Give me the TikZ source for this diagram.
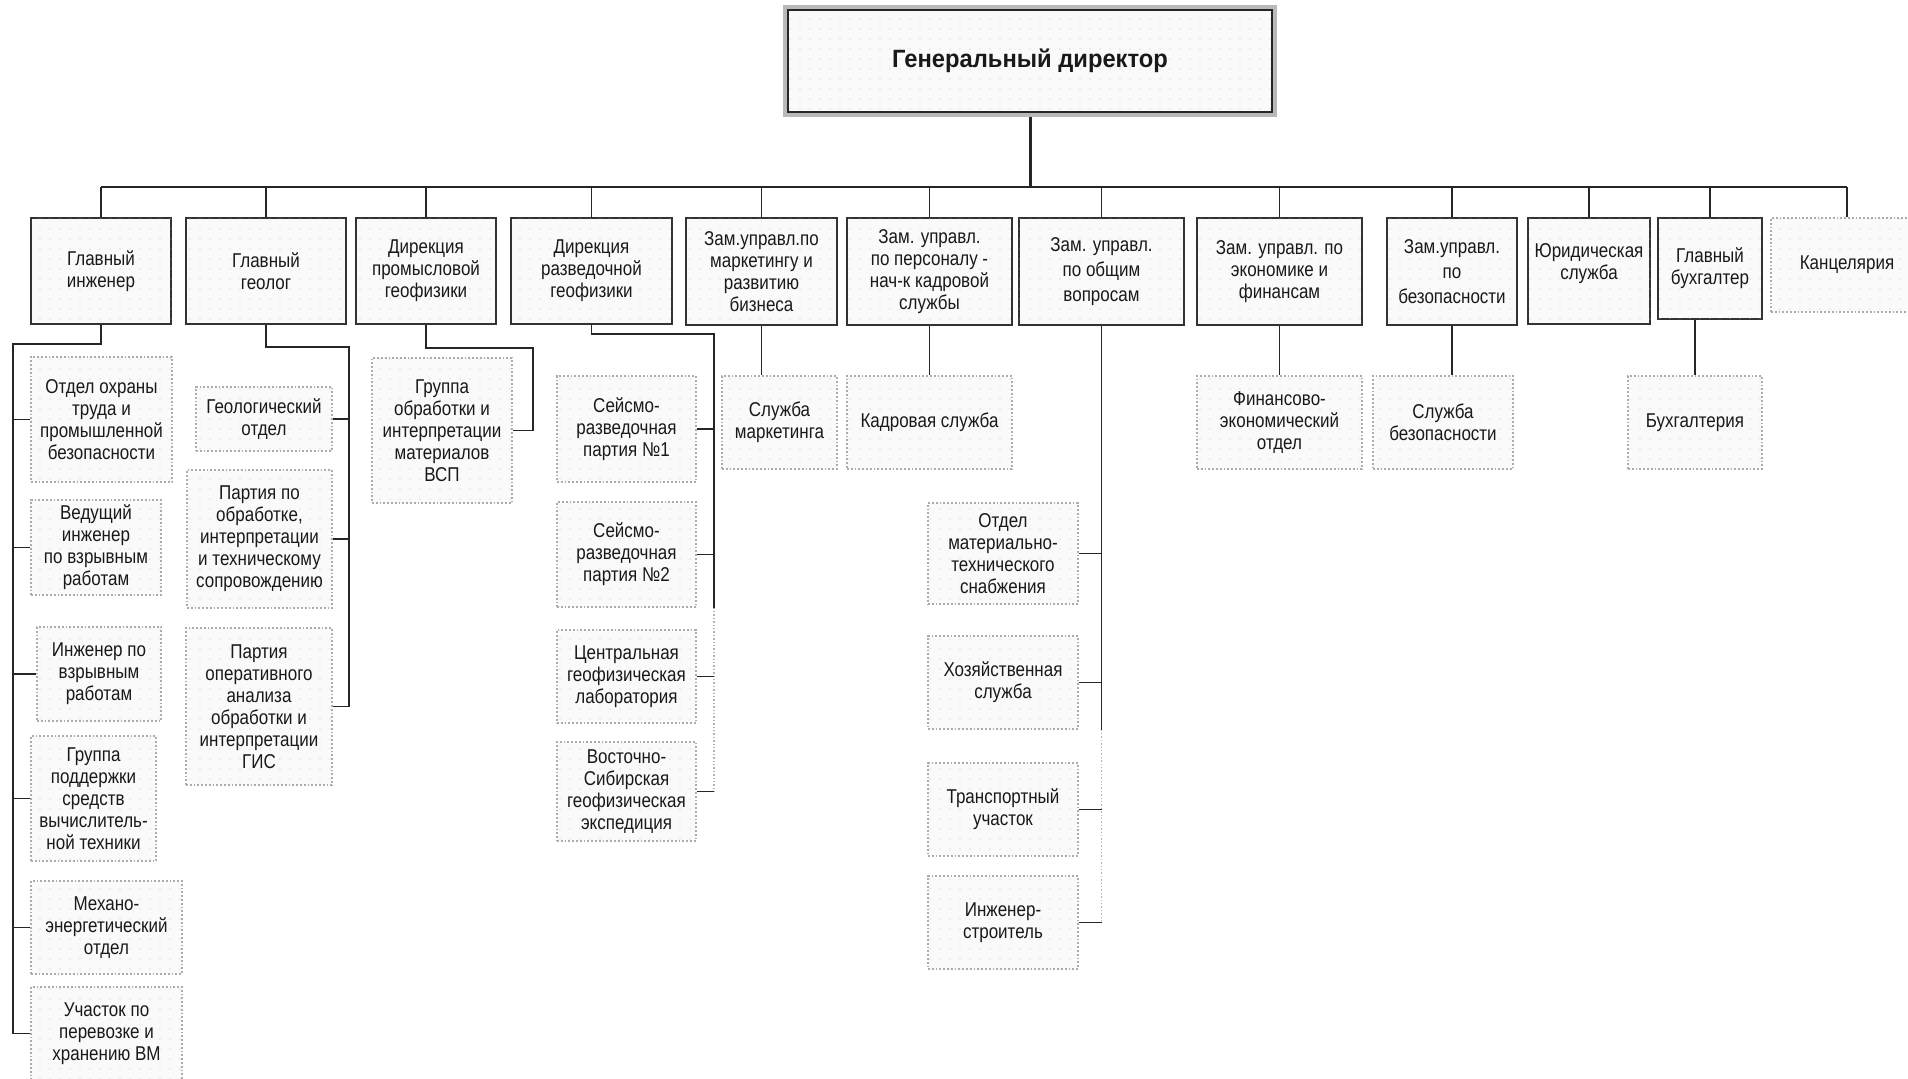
\documentclass[tikz,border=0pt]{standalone}
\usepackage{fontspec}
\setmainfont{Liberation Sans}[FakeStretch=0.85]
\newfontfamily\bossfont{Liberation Sans}[FakeStretch=0.95]
\usetikzlibrary{patterns.meta}
\newcommand\orgtext{\fontsize{10}{11}\selectfont}

\begin{document}
\begin{tikzpicture}[x=0.5pt, y=-0.5pt,
        head/.style={draw=black!80, line width=0.9pt, fill=gray!4, postaction={pattern={Dots[distance=5pt,radius=0.3pt]}, pattern color=gray!45}, align=center, inner sep=1pt, text=black!90, font=\orgtext},
        unit/.style={head, draw=gray!65, densely dotted, line width=0.7pt},
        link/.style={black!85, line width=0.75pt},
        faint/.style={gray!60, densely dotted, line width=0.7pt}]
                \useasboundingbox (0,0) rectangle (1908,1079);
                \node[head, draw=gray!55, line width=2pt, minimum width=245pt, minimum height=54pt, font=\bossfont\bfseries\fontsize{12.5}{14}\selectfont] (gd) at (1030,61) {Генеральный директор};
                \draw[black!85, line width=0.8pt] ([shift={(5,5)}]gd.north west) rectangle ([shift={(-5,-5)}]gd.south east);
                % first level
                \node[head, minimum width=70pt, minimum height=53pt] (gi) at (101,271) {Главный\\инженер};
                \node[head, minimum width=80pt, minimum height=53pt] (gg) at (266,271) {Главный\\геолог};
                \node[head, minimum width=70pt, minimum height=53pt] (dpg) at (426,271) {Дирекция\\промысловой\\геофизики};
                \node[head, minimum width=80.5pt, minimum height=53pt] (drg) at (591.5,271) {Дирекция\\разведочной\\геофизики};
                \node[head, minimum width=75.5pt, minimum height=53.5pt] (zmark) at (761.5,271.5) {Зам.управл.по\\маркетингу и\\развитию\\бизнеса};
                \node[head, minimum width=82.5pt, minimum height=53.5pt] (zpers) at (929.5,271.5) {Зам. управл.\\по персоналу -\\нач-к кадровой\\службы};
                \node[head, minimum width=82.5pt, minimum height=53.5pt] (zobsh) at (1101.5,271.5) {Зам. управл.\\[1.5pt]по общим\\[1.5pt]вопросам};
                \node[head, minimum width=82.5pt, minimum height=53.5pt] (zecon) at (1279.5,271.5) {Зам. управл. по\\экономике и\\финансам};
                \node[head, minimum width=65pt, minimum height=53.5pt] (zbez) at (1452,271.5) {Зам.управл.\\[1.5pt]по\\[1.5pt]безопасности};
                \node[head, minimum width=61pt, minimum height=53pt] (yur) at (1589,271) {Юридическая\\служба\\[-2pt]};
                \node[head, minimum width=52pt, minimum height=50.5pt] (gbuh) at (1710,268.5) {Главный\\бухгалтер};
                \node[unit, minimum width=76pt, minimum height=47pt] (kanc) at (1847,265) {Канцелярия};
                \coordinate (bus) at (1030,187);
                \draw[link, line width=1.5pt] (gd.south) -- (bus);
                \draw[link] (gi.north |- bus) -- (kanc.north |- bus);
                \draw[link] (gi.north) -- (gi.north |- bus) (gg.north) -- (gg.north |- bus) (dpg.north) -- (dpg.north |- bus)
                (drg.north) -- (drg.north |- bus) (zmark.north) -- (zmark.north |- bus) (zpers.north) -- (zpers.north |- bus)
                (zobsh.north) -- (zobsh.north |- bus) (zecon.north) -- (zecon.north |- bus) (zbez.north) -- (zbez.north |- bus)
                (yur.north) -- (yur.north |- bus) (gbuh.north) -- (gbuh.north |- bus) (kanc.north) -- (kanc.north |- bus);
                % second level, single units
                \node[unit, minimum width=57.5pt, minimum height=46.5pt] (smark) at (779.5,422.5) {Служба\\маркетинга};
                \node[unit, minimum width=82.5pt, minimum height=46.5pt] (kadr) at (929.5,422.5) {Кадровая служба};
                \node[unit, minimum width=82.5pt, minimum height=46.5pt] (fin) at (1279.5,422.5) {Финансово-\\экономический\\отдел};
                \node[unit, minimum width=70pt, minimum height=46.5pt] (sbez) at (1443,422.5) {Служба\\безопасности};
                \node[unit, minimum width=67pt, minimum height=46.5pt] (buh) at (1695,422.5) {Бухгалтерия};
                \draw[link] (zmark.south) -- (zmark.south |- smark.north) (zpers.south) -- (zpers.south |- kadr.north)
                (zecon.south) -- (zecon.south |- fin.north) (zbez.south) -- (zbez.south |- sbez.north) (buh.north) -- (buh.north |- gbuh.south);
                % chief engineer
                \node[unit, minimum width=70.5pt, minimum height=62.5pt] (oto) at (101.5,419.5) {Отдел охраны\\труда и\\промышленной\\безопасности};
                \node[unit, minimum width=65pt, minimum height=47.5pt] (ved) at (96,547.5) {Ведущий\\инженер\\по взрывным\\работам};
                \node[unit, minimum width=62pt, minimum height=47pt] (ivr) at (99,674) {Инженер по\\взрывным\\работам};
                \node[unit, minimum width=62.5pt, minimum height=62.5pt] (gpv) at (93.5,798.5) {Группа\\поддержки\\средств\\вычислитель-\\ной техники};
                \node[unit, minimum width=75.5pt, minimum height=46.5pt] (mex) at (106.5,927.5) {Механо-\\энергетический\\отдел};
                \node[unit, minimum width=75.5pt, minimum height=46.5pt] (uch) at (106.5,1033.5) {Участок по\\перевозке и\\хранению ВМ};
                \coordinate (gil) at (13,344);
                \draw[link] (gi.south) |- (gil) -- (gil |- uch.west) -- (uch.west);
                \draw[link] (oto.west) -- (oto.west -| gil) (ved.west) -- (ved.west -| gil) (ivr.west) -- (ivr.west -| gil)
                (gpv.west) -- (gpv.west -| gil) (mex.west) -- (mex.west -| gil);
                % chief geologist
                \node[unit, minimum width=68pt, minimum height=32pt] (geo) at (264,419) {Геологический\\отдел};
                \node[unit, minimum width=72.5pt, minimum height=69pt] (gpo) at (259.5,539) {Партия по\\обработке,\\интерпретации\\и техническому\\сопровождению};
                \node[unit, minimum width=73pt, minimum height=78.5pt] (gop) at (259,706.5) {Партия\\оперативного\\анализа\\обработки и\\интерпретации\\ГИС};
                \coordinate (ggl) at (349,347);
                \draw[link] (gg.south) |- (ggl) -- (ggl |- gop.east) -- (gop.east);
                \draw[link] (geo.east) -- (geo.east -| ggl) (gpo.east) -- (gpo.east -| ggl);
                % field geophysics
                \node[unit, minimum width=70pt, minimum height=72.5pt] (vsp) at (442,430.5) {Группа\\обработки и\\интерпретации\\материалов\\ВСП};
                \coordinate (dpl) at (533,348);
                \draw[link] (dpg.south) |- (dpl) -- (dpl |- vsp.east) -- (vsp.east);
                % exploration geophysics
                \node[unit, minimum width=69.5pt, minimum height=53pt] (sr1) at (626.5,429) {Сейсмо-\\разведочная\\партия №1};
                \node[unit, minimum width=69.5pt, minimum height=52.5pt] (sr2) at (626.5,554.5) {Сейсмо-\\разведочная\\партия №2};
                \node[unit, minimum width=69.5pt, minimum height=46.5pt] (cgl) at (626.5,676.5) {Центральная\\геофизическая\\лаборатория};
                \node[unit, minimum width=69.5pt, minimum height=49.5pt] (vsib) at (626.5,791.5) {Восточно-\\Сибирская\\геофизическая\\экспедиция};
                \coordinate (drl) at (714,334);
                \draw[link] (drg.south) |- (drl) -- (drl |- sr2.south);
                \draw[faint] (drl |- sr2.south) -- (drl |- vsib.east);
                \draw[link] (sr1.east) -- (sr1.east -| drl) (sr2.east) -- (sr2.east -| drl) (cgl.east) -- (cgl.east -| drl) (vsib.east) -- (vsib.east -| drl);
                % general affairs
                \node[unit, minimum width=75pt, minimum height=50.5pt] (mts) at (1003,553.5) {Отдел\\материально-\\технического\\снабжения};
                \node[unit, minimum width=75pt, minimum height=46.5pt] (hoz) at (1003,682.5) {Хозяйственная\\служба};
                \node[unit, minimum width=75pt, minimum height=46.5pt] (trn) at (1003,809.5) {Транспортный\\участок};
                \node[unit, minimum width=75pt, minimum height=46.5pt] (ing) at (1003,922.5) {Инженер-\\строитель};
                \draw[link] (zobsh.south) -- (zobsh.south |- hoz.south);
                \draw[faint] (zobsh.south |- hoz.south) -- (zobsh.south |- ing.east);
                \draw[link] (mts.east) -- (mts.east -| zobsh.south) (hoz.east) -- (hoz.east -| zobsh.south)
                (trn.east) -- (trn.east -| zobsh.south) (ing.east) -- (ing.east -| zobsh.south);
            \end{tikzpicture}
\end{document}
